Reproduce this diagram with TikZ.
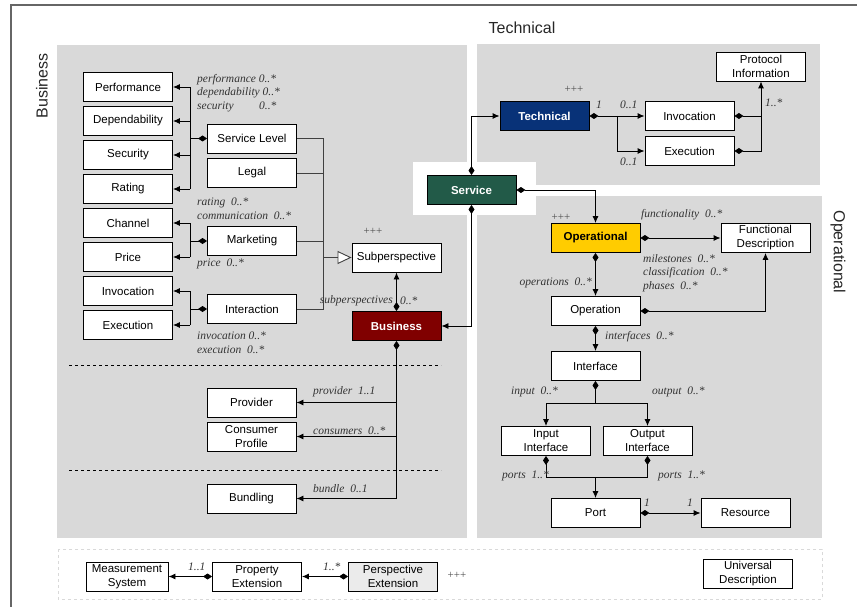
\documentclass[tikz,border=0pt]{standalone}
\usepackage{fontspec}
\setmainfont{Liberation Serif}
\setsansfont{Liberation Sans}
\usetikzlibrary{arrows.meta}
\definecolor{busred}{RGB}{128,0,0}
\definecolor{srvgreen}{RGB}{34,90,72}
\definecolor{techblue}{RGB}{8,50,120}
\definecolor{opyellow}{RGB}{255,204,0}
\begin{document}
\begin{tikzpicture}[x=1pt,y=-1pt,
  box/.style={draw,line width=.9pt,fill=white,minimum width=89pt,minimum height=29pt,inner sep=1pt,align=center,font=\sffamily\fontsize{11.5}{14}\selectfont},
  hot/.style={box,fill=#1,text=white,font=\sffamily\bfseries\fontsize{11.5}{14}\selectfont},
  lbl/.style={anchor=west,inner sep=0pt,text=black!80,font=\itshape\fontsize{11.5}{13}\selectfont},
  plus/.style={inner sep=0pt,text=black!70,font=\fontsize{11}{11}\selectfont},
  ttl/.style={inner sep=0pt,text=black!85,font=\sffamily\fontsize{16}{16}\selectfont},
  lnk/.style={line width=.9pt},
  dia/.style={lnk,{Diamond[length=9pt,width=6pt]}-},
  arr/.style={lnk,-{Latex[length=7pt,width=6pt]}},
  agg/.style={lnk,{Diamond[length=9pt,width=6pt]}-{Latex[length=7pt,width=6pt]}}]
\useasboundingbox (0,0) rectangle (857,607);
\draw[black!60,line width=1.2pt] (11,607) -- (11,5) -- (857,5);
\fill[gray!30] (57,45) rectangle (467,538);
\fill[gray!30] (477,44) rectangle (820,185);
\fill[gray!30] (477,196) rectangle (822,538);
\fill[white] (413,162) rectangle (536,215);
\draw[black!15,dashed,fill=white] (58,549) rectangle (822,599);
\draw[dashed,line width=.7pt] (69,365) -- (441,365) (69,470) -- (441,470);
\node[ttl,rotate=90] (tbus) at (42,86) {Business};
\node[ttl] (ttech) at (522,28) {Technical};
\node[ttl,rotate=-90] (top) at (838,252) {Operational};
\foreach \n/\t [count=\i] in {perf/Performance,dep/Dependability,sec/Security,rat/Rating,chan/Channel,price/Price,binv/Invocation,bexe/Execution}
  \node[box] (\n) at (128,{53+34*\i}) {\t};
\node[box] (sl) at (252,138.5) {Service Level};
\node[box] (legal) at (252,173) {Legal};
\node[box] (mkt) at (252,241) {Marketing};
\node[box] (inter) at (252,309) {Interaction};
\node[box] (sub) at (396.5,257.5) {Subperspective};
\node[hot=busred] (bus) at (396.5,326) {Business};
\node[box] (prov) at (251.5,402.5) {Provider};
\node[box] (cons) at (251.5,436.5) {Consumer\\Profile};
\node[box] (bund) at (251.5,498.5) {Bundling};
\node[hot=srvgreen] (serv) at (471.5,190) {Service};
\node[hot=techblue] (tech) at (544.5,116) {Technical};
\node[box] (tinv) at (689.5,116) {Invocation};
\node[box] (texe) at (689.5,151) {Execution};
\node[box] (pinfo) at (761,66.5) {Protocol\\Information};
\node[hot=opyellow,text=black] (oper) at (595.5,238) {Operational};
\node[box] (fdesc) at (765.5,238) {Functional\\Description};
\node[box] (opn) at (595.5,311) {Operation};
\node[box] (intf) at (595.5,366) {Interface};
\node[box] (inif) at (546,441) {Input\\Interface};
\node[box] (outif) at (647.5,441) {Output\\Interface};
\node[box] (port) at (595.5,513) {Port};
\node[box] (res) at (745.5,513) {Resource};
\node[box,minimum width=82pt] (mes) at (127,576.5) {Measurement\\System};
\node[box] (pext) at (257,576.5) {Property\\Extension};
\node[box,fill=black!8] (persp) at (393,576.5) {Perspective\\Extension};
\node[box] (univ) at (748,573.5) {Universal\\Description};
\coordinate (slb) at (190,138.5);
\coordinate (mkb) at (190,241);
\coordinate (inb) at (190,309);
\draw[dia] (sl.west) -- (slb);
\draw[lnk] (slb |- perf.east) -- (slb |- rat.east);
\foreach \n in {perf,dep,sec,rat} \draw[arr] (slb |- \n.east) -- (\n.east);
\draw[dia] (mkt.west) -- (mkb);
\draw[lnk] (mkb |- chan.east) -- (mkb |- price.east);
\foreach \n in {chan,price} \draw[arr] (mkb |- \n.east) -- (\n.east);
\draw[dia] (inter.west) -- (inb);
\draw[lnk] (inb |- binv.east) -- (inb |- bexe.east);
\foreach \n in {binv,bexe} \draw[arr] (inb |- \n.east) -- (\n.east);
\coordinate (sj) at (323,257.5);
\foreach \n in {sl,legal,mkt,inter} \draw[lnk,black!75] (\n.east) -| (sj);
\draw[lnk,black!75,-{Triangle[length=14pt,width=13pt,fill=white]}] (sj) -- (sub.west);
\draw[agg] (bus.north) -- (sub.south);
\draw[dia] (bus.south) -- (bus.south |- bund.east);
\foreach \n in {prov,cons,bund} \draw[arr] (bus.south |- \n.east) -- (\n.east);
\draw[agg] (serv.north) |- (tech.west);
\draw[agg] (serv.south) |- (bus.east);
\draw[agg] (serv.east) -| (oper.north);
\coordinate (tj) at (617,116);
\draw[agg] (tech.east) -- (tinv.west);
\draw[arr] (tj) |- (texe.west);
\draw[dia] (tinv.east) -- (tinv.east -| pinfo.south);
\draw[agg] (texe.east) -| (pinfo.south);
\draw[agg] (oper.east) -- (fdesc.west);
\draw[agg] (oper.south) -- (opn.north);
\draw[agg] (opn.east) -| (fdesc.south);
\draw[agg] (opn.south) -- (intf.north);
\coordinate (ij) at (595.5,403);
\coordinate (pj) at (595.5,477);
\draw[dia] (intf.south) -- (ij);
\draw[arr] (ij) -| (inif.north);
\draw[arr] (ij) -| (outif.north);
\draw[dia] (inif.south) |- (pj);
\draw[dia] (outif.south) |- (pj);
\draw[arr] (pj) -- (port.north);
\draw[agg] (port.east) -- (res.west);
\draw[agg] (pext.west) -- (mes.east);
\draw[agg] (persp.west) -- (pext.east);
\node[lbl] (lperf) at (197,80) {performance 0..*};
\node[lbl] (ldep) at (197,93) {dependability 0..*};
\node[lbl] (lsec) at (197,107) {\makebox[62pt][l]{security}0..*};
\node[lbl] (lrat) at (197,203) {rating\ \ 0..*};
\node[lbl] (lcom) at (197,216) {communication\ \ 0..*};
\node[lbl] (lpri) at (197,264) {price\ \ 0..*};
\node[lbl] (linv) at (197,336) {invocation 0..*};
\node[lbl] (lexe) at (197,350) {execution\ \ 0..*};
\node[lbl,anchor=east] (lsubs) at (393,301) {subperspectives};
\node[lbl] (lsubn) at (400,301) {0..*};
\node[plus] (psub) at (373,231) {+++};
\node[lbl] (lprov) at (313,392) {provider\ \ 1..1};
\node[lbl] (lcons) at (313,431) {consumers\ \ 0..*};
\node[lbl] (lbund) at (313,489) {bundle\ \ 0..1};
\node[plus] (ptech) at (574,89) {+++};
\node[lbl] (ltone) at (596,105) {1};
\node[lbl] (ltinv) at (620,105) {0..1};
\node[lbl] (ltexe) at (620,162) {0..1};
\node[lbl] (lpinf) at (765,103) {1..*};
\node[plus] (poper) at (561,217) {+++};
\node[lbl] (lfun) at (641,215) {functionality\ \ 0..*};
\node[lbl] (lmil) at (643,259) {milestones\ \ 0..*};
\node[lbl] (lcla) at (643,273) {classification\ \ 0..*};
\node[lbl] (lpha) at (643,287) {phases\ \ 0..*};
\node[lbl,anchor=east] (lops) at (592,283) {operations\ \ 0..*};
\node[lbl] (lint) at (605,337) {interfaces\ \ 0..*};
\node[lbl] (lin) at (511,392) {input\ \ 0..*};
\node[lbl] (lout) at (652,392) {output\ \ 0..*};
\node[lbl] (lpin) at (502,476) {ports\ \ 1..*};
\node[lbl] (lpout) at (658,476) {ports\ \ 1..*};
\node[lbl] (lport) at (644,503) {1};
\node[lbl] (lres) at (687,503) {1};
\node[lbl] (lmes) at (188,567) {1..1};
\node[lbl] (lpext) at (323,567) {1..*};
\node[plus] (pext2) at (457,575) {+++};
\end{tikzpicture}
\end{document}
